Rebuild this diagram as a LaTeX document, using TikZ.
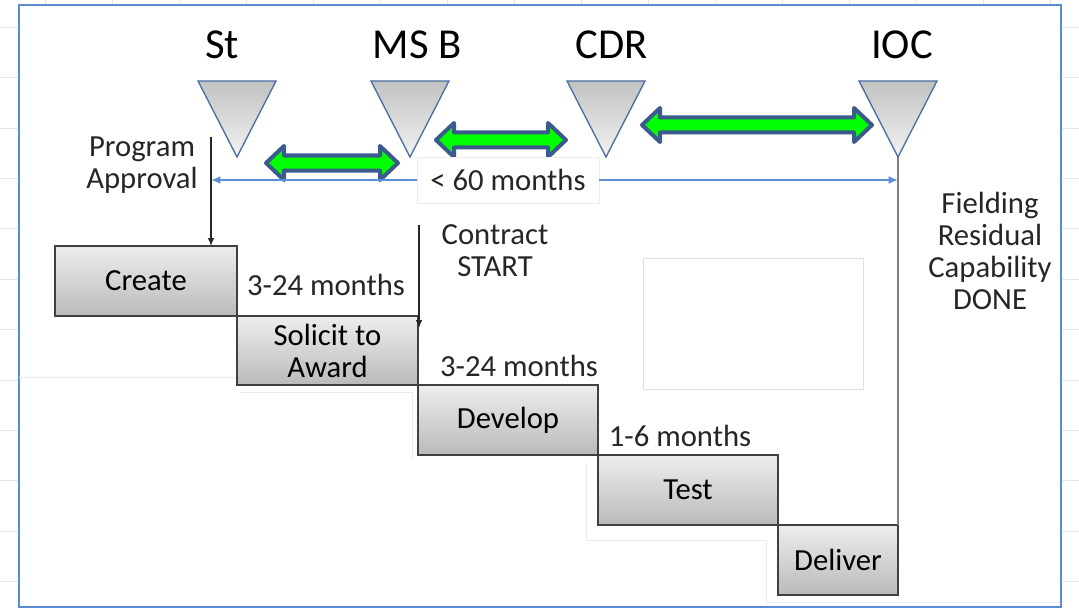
\documentclass[tikz,border=0pt]{standalone}
\usepackage{fontspec}
\setmainfont{Carlito}
\usetikzlibrary{arrows.meta,positioning}

\definecolor{framblue}{HTML}{5B8BD0}
\definecolor{linkblue}{HTML}{5A8ED6}
\definecolor{tribrd}{HTML}{4A6FA5}
\definecolor{bridgebrd}{HTML}{3B5B8C}
\definecolor{bridgegreen}{HTML}{00FF00}
\definecolor{gridgray}{HTML}{E6E6E6}

\newcommand{\px}{0.75pt}
% green double arrow between two milestones: x1, x2, y
\newcommand{\gapArrow}[3]{%
  \filldraw[bridge] (#1,#3) -- ({#1+18},{#3-17}) -- ({#1+18},{#3-7.5})
    -- ({#2-18},{#3-7.5}) -- ({#2-18},{#3-17}) -- (#2,#3)
    -- ({#2-18},{#3+17}) -- ({#2-18},{#3+7.5}) -- ({#1+18},{#3+7.5})
    -- ({#1+18},{#3+17}) -- cycle;}

\tikzset{
  mslabel/.style={font=\fontsize{32}{36}\selectfont, inner sep=0pt},
  note/.style={font=\fontsize{23}{24}\selectfont, align=center, text=black!85, inner sep=0pt},
  stage/.style={draw=black!75, line width=1.4pt, top color=black!7, bottom color=black!27,
    font=\fontsize{23}{24}\selectfont, align=center, anchor=north west, inner sep=0pt,
    outer sep=0pt, minimum height=70*\px},
  bridge/.style={draw=bridgebrd, fill=bridgegreen, line width=3pt, line join=round},
  timeline/.style={draw=linkblue, line width=1.5pt, -{Latex[length=7pt,width=6pt]}},
  pointer/.style={draw=black!85, line width=0.9pt, -{Latex[length=6pt,width=5pt]}},
}

\begin{document}
\begin{tikzpicture}[x=\px, y=-\px]
  \useasboundingbox (0,0) rectangle (1079,610);
  \fill[white] (0,0) rectangle (1079,610);

  % the sheet behind
  \foreach \k in {0,...,11} {
    \draw[gridgray] (0,{27+50.4*\k}) -- (18,{27+50.4*\k});
    \draw[gridgray] (1062,{27+50.4*\k}) -- (1079,{27+50.4*\k});
  }
  \foreach \k in {0,...,15} {
    \draw[gridgray] ({45+67*\k},0) -- ({45+67*\k},4);
  }

  % the frame
  \draw[framblue, line width=2pt] (19,5) rectangle (1061,607);

  % faint leftovers
  \draw[black!8] (19,377) -- (237,377);
  \draw[black!8] (240,392) -- (412,392) -- (412,460);
  \draw[black!8] (586,463) -- (586,540) -- (766,540) -- (766,602) -- (1060,602);
  \draw[black!12, fill=white] (643,258) rectangle (863,389);

  % the milestones
  \foreach \name/\lab/\x/\lx in {st/St/237/222, msb/MS B/410/417, cdr/CDR/606/612, ioc/IOC/898/902} {
    \shadedraw[draw=tribrd, line width=1pt, top color=black!24, bottom color=black!5]
      ({\x-39},81) -- ({\x+39},81) -- (\x,157) -- cycle;
    \coordinate (\name) at (\x,157);
    \node[mslabel] (\name-lab) at (\lx,45) {\lab};
  }

  % the gaps
  \gapArrow{266}{398}{163}
  \gapArrow{436}{566}{140}
  \gapArrow{642}{872}{125}

  % the stages
  \node[stage, minimum width=182*\px] (create) at (55,246) {Create};
  \node[stage, minimum width=181*\px, minimum height=69*\px] (solicit) at (create.south east) {Solicit to\\Award};
  \node[stage, minimum width=180*\px] (develop) at (solicit.south east) {Develop};
  \node[stage, minimum width=180*\px] (test) at (develop.south east) {Test};
  \node[stage, minimum width=120*\px] (deliver) at (test.south east) {Deliver};

  % the timeline
  \coordinate (apprtop) at (211,137);
  \coordinate (ctop) at (419,225);
  \coordinate (cend) at (419,328);
  \node[note, fill=white, draw=black!8, minimum width=182*\px, minimum height=46*\px] (months) at (508,180) {< 60 months};
  \draw[timeline] (months.west) -- (months.west -| apprtop);
  \draw[timeline] (months.east) -- (months.east -| ioc);
  \draw[black!50, line width=1.4pt] (ioc) -- (deliver.north east);
  \draw[pointer] (apprtop) -- (apprtop |- create.north);
  \draw[pointer] (ctop) -- (cend);

  % the notes
  \node[note] (approval) at (142,165) {Program\\Approval};
  \node[note] (contract) at (495,251) {Contract\\START};
  \node[note] (dur1) at (326,285) {3-24 months};
  \node[note] (dur2) at (519,366) {3-24 months};
  \node[note] (dur3) at (680,436) {1-6 months};
  \node[note] (fielding) at (990,251) {Fielding\\Residual\\Capability\\DONE};
\end{tikzpicture}
\end{document}
